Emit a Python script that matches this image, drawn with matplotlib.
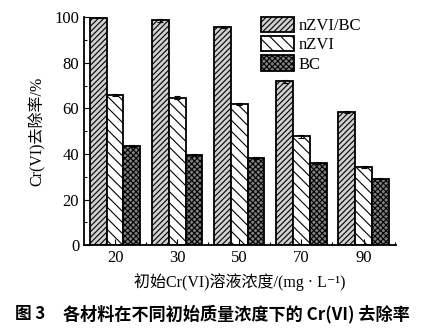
import numpy as np
import matplotlib.pyplot as plt
from matplotlib.ticker import MultipleLocator

plt.rcParams['hatch.linewidth'] = 0.8

# data
concs = ['20', '30', '50', '70', '90']
nzvi_bc = [99.8, 98.6, 95.6, 71.8, 58.3]
nzvi = [65.7, 64.6, 61.8, 47.7, 34.3]
bc = [43.4, 39.6, 38.2, 36.0, 29.1]
err_nzvi_bc = [0.4, 0.6, 0.4, 0.6, 0.4]
err_nzvi = [0.4, 0.6, 0.5, 0.6, 0.4]
err_bc = [0.3, 0.3, 0.3, 0.3, 0.3]

serif = ['Liberation Serif', 'Noto Sans CJK SC', 'DejaVu Sans']
cjk_bold = ['Noto Sans CJK SC', 'DejaVu Sans']

fig = plt.figure(figsize=(4.4, 3.29), dpi=100)
ax = fig.add_axes([0.191, 0.255, 0.71, 0.693])

x = np.arange(len(concs))
w = 0.27
series = [
    (nzvi_bc, err_nzvi_bc, '//////', '#d0d0d0', 'nZVI/BC'),
    (nzvi, err_nzvi, '\\\\\\', 'white', 'nZVI'),
    (bc, err_bc, 'xxxxxx', '#808080', 'BC'),
]
for i, (vals, errs, hatch, fc, lab) in enumerate(series):
    ax.bar(x + (i - 1) * w, vals, width=w, color=fc, edgecolor='black',
           hatch=hatch, linewidth=1.3, label=lab,
           yerr=errs, capsize=2.5, error_kw=dict(elinewidth=0.8, capthick=0.8, ecolor='black'))

ax.set_xlim(-0.5, 4.53)
ax.set_ylim(0, 100)
ax.set_xticks(x)
ax.set_xticklabels(concs)
ax.set_xticks(x + 0.5, minor=True)
ax.yaxis.set_major_locator(MultipleLocator(20))
ax.yaxis.set_minor_locator(MultipleLocator(10))
ax.tick_params(which='both', direction='in', labelsize=12)
ax.tick_params(which='major', length=4, width=0.8)
ax.tick_params(which='minor', length=2.5, width=0.8)
for t in ax.get_xticklabels() + ax.get_yticklabels():
    t.set_family(serif)
ax.spines['top'].set_visible(False)
ax.spines['right'].set_visible(False)
ax.spines['left'].set_linewidth(1.3)
ax.spines['bottom'].set_linewidth(1.3)

ax.set_ylabel('Cr(VI)去除率/%', family=serif, fontsize=11.5, labelpad=6)
ax.set_xlabel('初始Cr(VI)溶液浓度/(mg · L⁻¹)', family=serif, fontsize=11.5, labelpad=5)

leg = ax.legend(loc='upper left', bbox_to_anchor=(0.545, 1.03), frameon=False,
                prop={'family': serif, 'size': 12}, handlelength=2.0, handleheight=1.05,
                handletextpad=0.25, labelspacing=0.1, borderaxespad=0)

fig.text(0.035, 0.03, '图 3', family=cjk_bold, fontsize=12, fontweight='bold')
fig.text(0.143, 0.03, '各材料在不同初始质量浓度下的 Cr(VI) 去除率', family=cjk_bold,
         fontsize=12.3, fontweight='bold')

fig.savefig('out.png', dpi=100)
